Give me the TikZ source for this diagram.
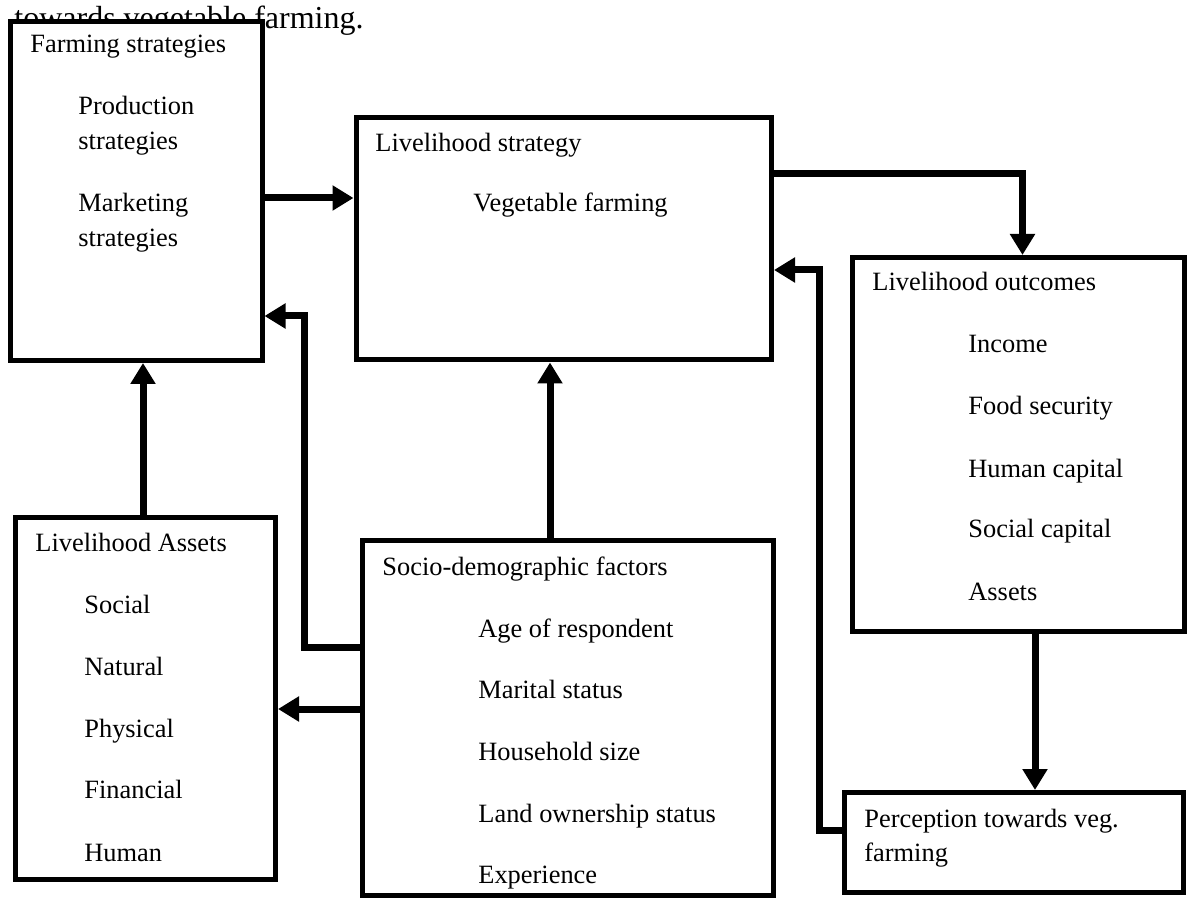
\documentclass[tikz,border=0pt]{standalone}
\usepackage{fontspec}
\setmainfont{Liberation Serif}
\usetikzlibrary{arrows.meta,fit}
\begin{document}
\begin{tikzpicture}[x=0.5pt,y=-0.5pt,
  box/.style={draw, line width=2.5pt, fill=white, inner sep=0pt},
  lbl/.style={anchor=base west, inner sep=0pt, font=\fontsize{13.2}{15}\selectfont},
  ttl/.style={anchor=base west, inner sep=0pt, font=\fontsize{16}{19}\selectfont},
  arr/.style={line width=3.5pt, line join=miter, -{Triangle[width=12pt,length=10.5pt]}}
]
\useasboundingbox (0,0) rectangle (1191,899);

\node[ttl] (title) at (14,29) {towards vegetable farming.};

% boxes
\node[box, fit={(10.5,22) (262,360.5)}] (farm) {};
\node[box, fit={(356,117.5) (771.5,360)}] (strat) {};
\node[box, fit={(852.5,257.5) (1184,631)}] (outc) {};
\node[box, fit={(15.5,517) (275.5,879)}] (assets) {};
\node[box, fit={(362.5,540.5) (773,895)}] (socio) {};
\node[box, fit={(844.5,792.5) (1183,892.5)}] (perc) {};

% farming strategies
\node[lbl] (f0) at (30,53) {Farming strategies};
\node[lbl] (f1) at (78,115) {Production};
\node[lbl] (f2) at (78,150) {strategies};
\node[lbl] (f3) at (78,212) {Marketing};
\node[lbl] (f4) at (78,247) {strategies};

% livelihood strategy
\node[lbl] (s0) at (375,152) {Livelihood strategy};
\node[lbl] (s1) at (473,212) {Vegetable farming};

% livelihood outcomes
\node[lbl] (o0) at (872,291) {Livelihood outcomes};
\node[lbl] (o1) at (968,352) {Income};
\node[lbl] (o2) at (968,415) {Food security};
\node[lbl] (o3) at (968,477) {Human capital};
\node[lbl] (o4) at (968,538) {Social capital};
\node[lbl] (o5) at (968,600) {Assets};

% livelihood assets
\node[lbl] (a0) at (35,552) {Livelihood Assets};
\node[lbl] (a1) at (84,613) {Social};
\node[lbl] (a2) at (84,675) {Natural};
\node[lbl] (a3) at (84,737) {Physical};
\node[lbl] (a4) at (84,798) {Financial};
\node[lbl] (a5) at (84,861) {Human};

% socio-demographic factors
\node[lbl] (d0) at (382,575) {Socio-demographic factors};
\node[lbl] (d1) at (478,637) {Age of respondent};
\node[lbl] (d2) at (478,698) {Marital status};
\node[lbl] (d3) at (478,760) {Household size};
\node[lbl] (d4) at (478,822) {Land ownership status};
\node[lbl] (d5) at (478,883) {Experience};

% perception
\node[lbl] (p0) at (864,827) {Perception towards veg.};
\node[lbl] (p1) at (864,861) {farming};

% connectors
\coordinate (b1) at (819,270);
\coordinate (b2) at (304,316);
\draw[arr] (farm.east |- 0,198) -- (strat.west |- 0,198);
\draw[arr] (strat.east |- 0,174) -| (outc.north -| 1022.5,0);
\draw[arr] (outc.south -| 1035,0) -- (perc.north -| 1035,0);
\draw[arr] (perc.west |- 0,830) -| (b1) -- (strat.east |- b1);
\draw[arr] (assets.north -| 143,0) -- (farm.south -| 143,0);
\draw[arr] (socio.west |- 0,647) -| (b2) -- (farm.east |- b2);
\draw[arr] (socio.west |- 0,709) -- (assets.east |- 0,709);
\draw[arr] (socio.north -| 550,0) -- (strat.south -| 550,0);
\end{tikzpicture}
\end{document}
